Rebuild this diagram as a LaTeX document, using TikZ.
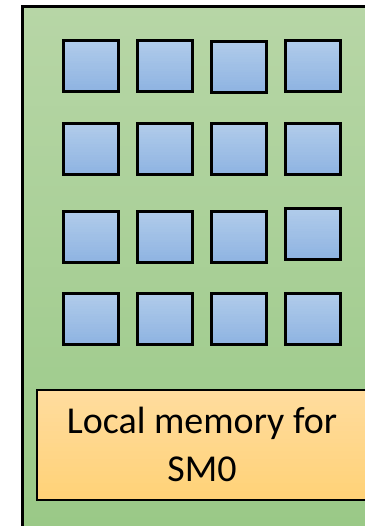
\documentclass[tikz,border=0pt]{standalone}
\usepackage{fontspec}
\usetikzlibrary{calc}
\setmainfont{Carlito}
\definecolor{gtop}{RGB}{183,214,166}
\definecolor{gbot}{RGB}{154,201,135}
\definecolor{btop}{RGB}{176,203,234}
\definecolor{bbot}{RGB}{143,180,226}
\definecolor{otop}{RGB}{255,220,158}
\definecolor{obot}{RGB}{255,210,120}
\tikzset{
  sq/.style={draw=black, line width=3pt,
    minimum width=55.5pt, minimum height=51pt, inner sep=0pt, outer sep=0pt,
    path picture={
      \foreach \k [evaluate=\k as \p using \k*100/19] in {0,...,19}{
        \fill[bbot!\p!btop]
          ($(path picture bounding box.north west)!{\k/20}!(path picture bounding box.south west)$)
          rectangle
          ($(path picture bounding box.north east)!{(\k+1.3)/20}!(path picture bounding box.south east)$);
      }
    }},
  memtext/.style={inner sep=0pt, align=center,
    font=\fontsize{38}{48}\selectfont},
}
\begin{document}
\begin{tikzpicture}[x=1pt,y=-1pt]
\useasboundingbox (0,0) rectangle (365,526);
\fill[white] (0,0) rectangle (365,526);
% outer SM block: vertical gradient built from strips
\foreach \i in {0,...,51}{
  \pgfmathsetmacro{\ya}{6.5+\i*10}
  \pgfmathsetmacro{\yb}{min(526,\ya+10.6)}
  \pgfmathsetmacro{\p}{\i*100/51}
  \fill[gbot!\p!gtop] (22.5,\ya) rectangle (365,\yb);
}
\draw[line width=3pt] (22.5,526) -- (22.5,6.5) -- (365,6.5);
% processing units
\node[sq] (s11) at (91,66) {};
\node[sq] (s12) at (165,66) {};
\node[sq] (s13) at (239,67) {};
\node[sq] (s14) at (312.8,66) {};
\node[sq] (s21) at (91,149.5) {};
\node[sq] (s22) at (165,149.5) {};
\node[sq] (s23) at (239,149.5) {};
\node[sq] (s24) at (312.8,149.5) {};
\node[sq] (s31) at (91,237) {};
\node[sq] (s32) at (165,237) {};
\node[sq] (s33) at (239,237) {};
\node[sq] (s34) at (312.8,234) {};
\node[sq] (s41) at (91,319) {};
\node[sq] (s42) at (165,319) {};
\node[sq] (s43) at (239,319) {};
\node[sq] (s44) at (312.8,319) {};
% local memory: vertical gradient built from strips
\foreach \i in {0,...,26}{
  \pgfmathsetmacro{\ya}{390+\i*4.05}
  \pgfmathsetmacro{\yb}{min(499.5,\ya+4.6)}
  \pgfmathsetmacro{\p}{\i*100/26}
  \fill[obot!\p!otop] (37,\ya) rectangle (365,\yb);
}
\draw[line width=2pt] (365,390) -- (37,390) -- (37,499.5) -- (365,499.5);
\node[memtext] (mem) at (202,444.75) {Local memory for\\SM0};
\end{tikzpicture}
\end{document}
